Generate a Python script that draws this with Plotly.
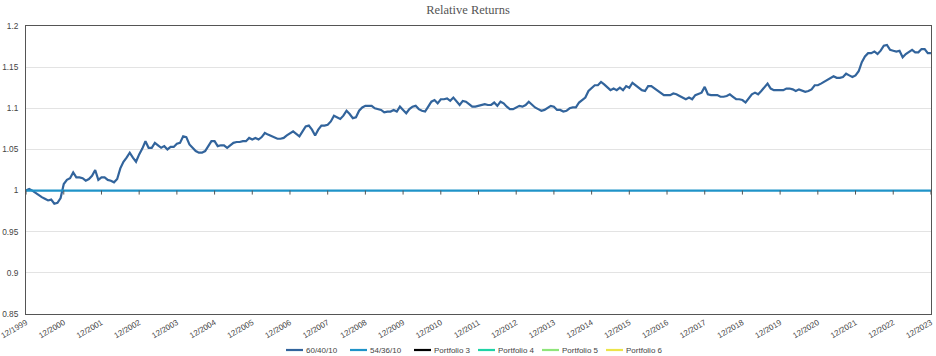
import plotly.graph_objects as go

# ---- data ----
n_months = 289
series_names = ["60/40/10", "54/36/10", "Portfolio 3", "Portfolio 4", "Portfolio 5", "Portfolio 6"]
series_colors = ["#32649c", "#1f93c8", "#000000", "#1fd3a6", "#8fe57a", "#ece44a"]

p60_40_10 = (
    [1.000]
    + [1.002, 1.000, 0.997, 0.994, 0.992, 0.990, 0.988, 0.989, 0.984, 0.985, 0.991, 1.008]  # 2000
    + [1.013, 1.015, 1.022, 1.016, 1.016, 1.015, 1.012, 1.014, 1.018, 1.025, 1.013, 1.016]  # 2001
    + [1.016, 1.013, 1.012, 1.010, 1.014, 1.027, 1.035, 1.040, 1.046, 1.040, 1.035, 1.044]  # 2002
    + [1.051, 1.060, 1.052, 1.052, 1.058, 1.055, 1.052, 1.054, 1.050, 1.053, 1.053, 1.057]  # 2003
    + [1.058, 1.066, 1.065, 1.056, 1.052, 1.048, 1.046, 1.046, 1.048, 1.054, 1.060, 1.060]  # 2004
    + [1.054, 1.055, 1.055, 1.052, 1.055, 1.058, 1.059, 1.059, 1.060, 1.060, 1.064, 1.062]  # 2005
    + [1.064, 1.062, 1.065, 1.070, 1.068, 1.066, 1.064, 1.063, 1.063, 1.064, 1.067, 1.070]  # 2006
    + [1.072, 1.069, 1.066, 1.072, 1.078, 1.079, 1.074, 1.067, 1.074, 1.079, 1.079, 1.080]  # 2007
    + [1.084, 1.091, 1.089, 1.087, 1.091, 1.097, 1.093, 1.088, 1.089, 1.097, 1.101, 1.103]  # 2008
    + [1.103, 1.103, 1.100, 1.099, 1.098, 1.095, 1.096, 1.096, 1.098, 1.096, 1.102, 1.098]  # 2009
    + [1.094, 1.099, 1.102, 1.103, 1.099, 1.097, 1.096, 1.102, 1.108, 1.110, 1.106, 1.111]  # 2010
    + [1.111, 1.112, 1.109, 1.113, 1.108, 1.104, 1.109, 1.108, 1.105, 1.102, 1.102, 1.103]  # 2011
    + [1.104, 1.105, 1.104, 1.104, 1.107, 1.103, 1.108, 1.106, 1.102, 1.099, 1.099, 1.101]  # 2012
    + [1.103, 1.102, 1.104, 1.108, 1.104, 1.101, 1.099, 1.097, 1.098, 1.101, 1.103, 1.102]  # 2013
    + [1.098, 1.098, 1.096, 1.097, 1.100, 1.101, 1.101, 1.107, 1.110, 1.113, 1.121, 1.124]  # 2014
    + [1.128, 1.128, 1.132, 1.129, 1.126, 1.122, 1.124, 1.122, 1.125, 1.122, 1.127, 1.125]  # 2015
    + [1.131, 1.128, 1.125, 1.122, 1.121, 1.127, 1.127, 1.124, 1.122, 1.118, 1.116, 1.116]  # 2016
    + [1.116, 1.118, 1.117, 1.115, 1.113, 1.111, 1.113, 1.111, 1.116, 1.118, 1.119, 1.126]  # 2017
    + [1.117, 1.116, 1.116, 1.116, 1.114, 1.114, 1.115, 1.117, 1.114, 1.111, 1.111, 1.110]  # 2018
    + [1.107, 1.112, 1.117, 1.119, 1.117, 1.121, 1.126, 1.130, 1.124, 1.122, 1.122, 1.122]  # 2019
    + [1.122, 1.124, 1.124, 1.123, 1.121, 1.123, 1.121, 1.120, 1.121, 1.123, 1.128, 1.128]  # 2020
    + [1.130, 1.132, 1.134, 1.137, 1.139, 1.137, 1.137, 1.138, 1.142, 1.140, 1.138, 1.140]  # 2021
    + [1.145, 1.156, 1.163, 1.167, 1.167, 1.169, 1.166, 1.170, 1.176, 1.177, 1.171, 1.170]  # 2022
    + [1.169, 1.170, 1.162, 1.166, 1.169, 1.171, 1.168, 1.168, 1.172, 1.172, 1.167, 1.167]  # 2023
)
p54_36_10 = [1.000] * n_months
empty_series = []

y_ticks = [0.85, 0.9, 0.95, 1.0, 1.05, 1.1, 1.15, 1.2]
y_tick_text = ["0.85", "0.9", "0.95", "1", "1.05", "1.1", "1.15", "1.2"]
axis_cross_value = 1.0
tick_years = list(range(1999, 2024))
x_tick_text = [f"12/{y}" for y in tick_years]

# month labels (categories), month index 0 = 12/1999
month_labels = [f"{(m + 11) % 12 + 1}/{1999 + (m + 11) // 12}" for m in range(n_months)]
x_index = list(range(n_months))
tick_positions = [month_labels.index(t) for t in x_tick_text]

all_values = [p60_40_10, p54_36_10, empty_series, empty_series, empty_series, empty_series]

W, H = 936, 356
ML, MR, MT, MB = 26, 5, 26, 42
plot_w = W - ML - MR
plot_h = H - MT - MB

fig = go.Figure()
for k in range(len(series_names)):
    vals = all_values[k]
    fig.add_trace(go.Scatter(
        x=x_index[:len(vals)], y=vals, mode="lines", name=series_names[k],
        customdata=month_labels[:len(vals)],
        hovertemplate="%{customdata}: %{y:.3f}<extra>" + series_names[k] + "</extra>",
        line=dict(color=series_colors[k], width=2.2), showlegend=False,
    ))

font_family = "Liberation Sans, Arial, sans-serif"

y0, y1 = y_ticks[0], y_ticks[-1]

fig.update_layout(
    width=W, height=H,
    margin=dict(l=ML, r=MR, t=MT, b=MB, autoexpand=False),
    paper_bgcolor="white", plot_bgcolor="white",
    title=dict(text="Relative Returns", x=0.5, xref="container", xanchor="center",
               y=1 - 9.5 / H, yref="container", yanchor="middle",
               font=dict(family="Liberation Serif, Georgia, serif", size=12.5, color="#555555")),
    font=dict(family=font_family, size=8, color="#444444"),
    xaxis=dict(
        range=[x_index[0] - 0.02, x_index[-1] + 0.02],
        tickvals=tick_positions, ticktext=x_tick_text, tickangle=-30,
        ticklabeloverflow="allow",
        showgrid=False, zeroline=False, ticks="",
        showline=True, mirror=True, linecolor="#555555", linewidth=1,
        tickfont=dict(size=8, color="#444444"), automargin=False,
    ),
    yaxis=dict(
        range=[y0, y1], tickvals=y_ticks, ticktext=y_tick_text,
        ticklabeloverflow="allow",
        showgrid=True, gridcolor="#e3e3e3", gridwidth=1, zeroline=False,
        showline=True, mirror=True, linecolor="#555555", linewidth=1,
        ticks="", ticklabelstandoff=5,
        tickfont=dict(size=8.3, color="#444444"), automargin=False,
    ),
    showlegend=False,
)

# small tick marks where the category axis crosses the value axis (at 1.0)
for tp in tick_positions:
    fig.add_shape(type="line", xref="x", yref="y", x0=tp, x1=tp,
                  ysizemode="pixel", yanchor=axis_cross_value, y0=-4, y1=0,
                  line=dict(color="#555555", width=1), layer="above")

# ---- custom legend (real text) ----
leg_y = (MT + plot_h - 350) / plot_h  # paper coords
leg_first_px = 286
leg_step_px = 64
line_len_px = 17
for k, name in enumerate(series_names):
    x_px = leg_first_px + k * leg_step_px
    xa = (x_px - ML) / plot_w
    xb = (x_px + line_len_px - ML) / plot_w
    fig.add_shape(type="line", xref="paper", yref="paper", x0=xa, x1=xb, y0=leg_y, y1=leg_y,
                  line=dict(color=series_colors[k], width=2.2))
    fig.add_annotation(xref="paper", yref="paper", x=xb, y=leg_y, text=name, showarrow=False,
                       xanchor="left", yanchor="middle", xshift=0.5,
                       font=dict(family=font_family, size=8, color="#444444"))

fig.write_html("out.html", config={"displayModeBar": False},
               post_script="document.body.style.margin='0';")
